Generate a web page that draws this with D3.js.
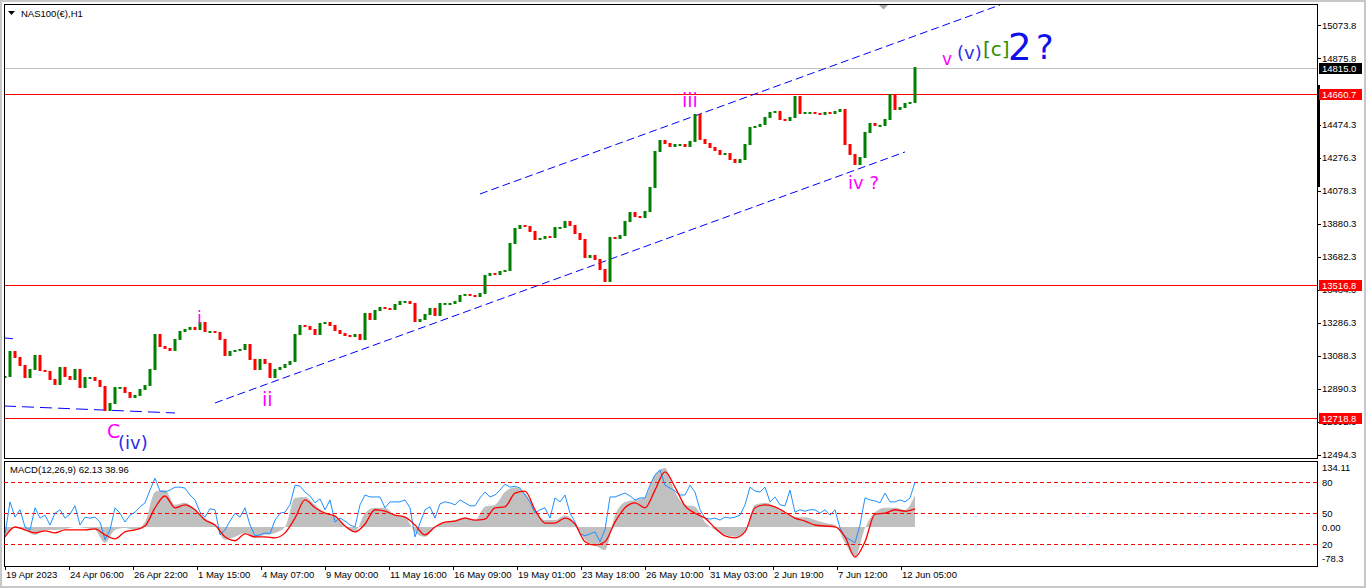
<!DOCTYPE html>
<html>
<head>
<meta charset="utf-8">
<script src="https://cdnjs.cloudflare.com/ajax/libs/d3/7.8.5/d3.min.js"></script>
<style>
html, body { margin: 0; padding: 0; background: #fff; overflow: hidden; }
text { font-family: 'Liberation Sans', Arial, sans-serif; }
</style>
</head>
<body>
<div id="chart"></div>
<script>
// NAS100(€), H1 - contagem de ondas + MACD

// fechamentos, 1 candle = 5 barras H1
var closes = [
    12962, 13112, 13076, 13028, 12956, 13004, 13088, 12998, 12992, 12944,
    12914, 13016, 12962, 12944, 13004, 12896, 12956, 12956, 12938, 12902,
    12758, 12800, 12896, 12896, 12866, 12836, 12848, 12884, 12908, 13004,
    13214, 13142, 13130, 13118, 13184, 13232, 13244, 13256, 13244, 13286,
    13232, 13232, 13226, 13184, 13088, 13112, 13118, 13124, 13154, 13064,
    13004, 13064, 13040, 12956, 13004, 13016, 13034, 13052, 13214, 13268,
    13262, 13244, 13214, 13280, 13286, 13268, 13238, 13220, 13208, 13202,
    13214, 13184, 13340, 13304, 13358, 13376, 13370, 13364, 13394, 13412,
    13412, 13400, 13292, 13304, 13334, 13370, 13328, 13400, 13400, 13400,
    13412, 13448, 13454, 13448, 13442, 13460, 13568, 13580, 13574, 13592,
    13598, 13760, 13850, 13868, 13862, 13832, 13784, 13790, 13802, 13796,
    13856, 13856, 13892, 13868, 13820, 13784, 13676, 13688, 13664, 13604,
    13532, 13796, 13790, 13808, 13892, 13946, 13922, 13916, 13952, 14096,
    14312, 14378, 14360, 14342, 14354, 14354, 14342, 14372, 14534, 14384,
    14360, 14336, 14318, 14294, 14300, 14264, 14246, 14264, 14354, 14456,
    14462, 14474, 14516, 14546, 14552, 14504, 14498, 14516, 14642, 14540,
    14546, 14546, 14540, 14534, 14546, 14540, 14552, 14564, 14354, 14294,
    14234, 14276, 14426, 14480, 14468, 14468, 14504, 14654, 14564, 14576,
    14600, 14606, 14815
];

// linha azul do MACD, 1 ponto a cada 5 barras
var macdMain = [
    -16, 51, 20, 35, 0, -6, 39, 18, 24, 4,
    28, 35, 18, 26, 43, 4, 20, 18, 20, 10,
    -26, -6, 39, 28, 10, 24, 30, 41, 49, 75,
    99, 73, 71, 75, 81, 81, 79, 65, 55, 30,
    20, 37, 35, -16, -6, 12, 28, 20, 39, 4,
    -18, -16, -12, -14, 14, 28, 30, 45, 85, 83,
    71, 63, 49, 57, 35, 55, 10, 18, 12, 4,
    0, 45, 65, 61, 61, 61, 39, 51, 51, 51,
    55, 39, -20, 8, 35, 41, 18, 47, 51, 49,
    45, 55, 49, 43, 43, 59, 71, 61, 65, 75,
    87, 81, 83, 79, 65, 51, 28, 35, 39, 18,
    59, 51, 65, 28, 10, -14, -18, -14, -10, -30,
    -6, 61, 61, 65, 69, 63, 55, 59, 59, 85,
    106, 116, 85, 79, 73, 65, 65, 85, 71, 35,
    18, 16, 18, 14, 20, 18, 20, 24, 45, 81,
    73, 71, 81, 51, 61, 45, 43, 75, 30, 35,
    32, 35, 35, 28, 35, 24, 35, -2, -20, -26,
    -32, 4, 59, 55, 53, 49, 69, 51, 51, 55,
    51, 59, 91
];

// linha vermelha (sinal), 1 ponto a cada 10 barras
var macdSignal = [
    -20, 0, -6, -12, -8, -12, -6, -6, -6, -4,
    -16, -24, -10, -6, 2, 39, 63, 39, 45, 35,
    14, 4, -20, -28, -14, -20, -20, -22, -12, 18,
    55, 39, 28, 22, 2, -10, 6, 35, 32, 24,
    20, 4, -16, 0, 10, 12, 18, 14, 16, 39,
    41, 69, 73, 35, 8, 8, 18, 6, -30, -37,
    -30, 10, 39, 49, 39, 75, 112, 81, 43, 28,
    18, -2, -18, -22, -10, 39, 45, 41, 30, 18,
    12, 4, 2, 0, -20, -61, -30, 26, 28, 35,
    32, 37
];

// histograma cinza, 1 ponto a cada 10 barras
var macdHist = [
    -16, 0, -6, -16, -6, -6, -4, 0, -2, -6,
    -32, -6, -2, -6, 10, 71, 75, 45, 49, 35,
    18, 4, -26, -20, -12, -22, -16, -12, 0, 59,
    61, 45, 28, 20, 0, -10, 28, 39, 39, 24,
    20, -10, -20, 0, 10, 14, 20, 14, 41, 45,
    71, 81, 69, 35, 14, 14, 24, 8, -26, -37,
    -47, 24, 51, 55, 61, 106, 120, 71, 45, 41,
    10, -6, -16, -20, -10, 45, 49, 41, 28, 20,
    20, 14, 8, 4, -32, -61, -2, 30, 39, 39,
    35, 65
];

var priceTicks = [15073.8, 14875.8, 14474.3, 14276.3, 14078.3, 13880.3, 13682.3,
    13484.3, 13286.3, 13088.3, 12890.3, 12692.3, 12494.3];
var timeLabels = ['19 Apr 2023', '24 Apr 06:00', '26 Apr 22:00', '1 May 15:00', '4 May 07:00',
    '9 May 00:00', '11 May 16:00', '16 May 09:00', '19 May 01:00', '23 May 18:00',
    '26 May 10:00', '31 May 03:00', '2 Jun 19:00', '7 Jun 12:00', '12 Jun 05:00'];
var redLevels = [14660.7, 13516.8, 12718.8];
var lastPrice = 14815.0;
var macdRange = [-78.3, 134.11];
var macdLevels = [90.8, 27.8, -35.2];
var macdLevelNames = ['80', '50', '20'];
var macdLegend = [62.13, 38.96];

// linhas de tendencia: [barra1, preco1, barra2, preco2]
var trendLines = [
    [475, 14060, 995, 15194],
    [210, 12806, 900, 14312],
    [-1, 12788, 170, 12746],
    [0, 13196, 10, 13190]
];

// contagem de ondas
var waveText = ['C', '(iv)', 'i', 'ii', 'iii', 'iv ?', 'v', '(v)', '[c]', '2', '?'];
var waveBar = [102, 113, 192, 257, 677, 843, 937, 952, 978, 1003, 1031];
var wavePrice = [12596, 12530, 13280, 12788, 14582, 14090, 14834, 14870, 14888, 14864, 14870];

// ------------------------------------------------------------------

var W = 1366, H = 588;
var left = 4, right = 1317;
var mainTop = 4, mainBottom = 458, macdTop = 461, macdBottom = 566;
var candleStep = 5, slowStep = 10, labelEvery = 64;

var svg = d3
.select('#chart')
.append('svg')
.attr('width', W)
.attr('height', H)
.style('display', 'block')
;

var x = d3.scaleLinear().domain([0, right - 5]).range([5, right]);
var y = d3.scaleLinear().domain([priceTicks[priceTicks.length - 1], priceTicks[0]]).range([454.92, 25]);
var ym = d3.scaleLinear().domain(macdRange).range([565.5, 461]);

var defs = svg.append('defs');
defs.append('clipPath').attr('id', 'clipMain')
.append('rect').attr('x', left).attr('y', mainTop).attr('width', right - left).attr('height', mainBottom - mainTop);
defs.append('clipPath').attr('id', 'clipMacd')
.append('rect').attr('x', left).attr('y', macdTop).attr('width', right - left).attr('height', macdBottom - macdTop);

// moldura da janela
svg.append('rect')
.attr('x', 1).attr('y', 1).attr('width', W - 2).attr('height', H - 2)
.attr('fill', 'none').attr('stroke', '#c8c8c8').attr('stroke-width', 2)
;

var main = svg.append('g').attr('clip-path', 'url(#clipMain)');

// linhas horizontais
main.selectAll('line.level')
.data(redLevels)
.enter()
.append('line')
.attr('x1', left).attr('x2', right)
.attr('y1', function(d){ return Math.round(y(d)) + 0.5; })
.attr('y2', function(d){ return Math.round(y(d)) + 0.5; })
.attr('stroke', '#ff0000')
;

main.append('line')
.attr('x1', left).attr('x2', right)
.attr('y1', Math.round(y(lastPrice)) + 0.5).attr('y2', Math.round(y(lastPrice)) + 0.5)
.attr('stroke', '#c0c0c0')
;

// canal
main.selectAll('line.trend')
.data(trendLines)
.enter()
.append('line')
.attr('x1', function(d){ return x(d[0]); })
.attr('y1', function(d){ return y(d[1]); })
.attr('x2', function(d){ return x(d[2]); })
.attr('y2', function(d){ return y(d[3]); })
.attr('stroke', '#0000ff')
.attr('stroke-width', 1)
.attr('stroke-dasharray', function(d, i){ return i == 2 ? '12,6' : '8,4'; })
;

// candles
var bars = closes.map(function(c, i){ return {i: i, o: i ? closes[i - 1] : c, c: c}; });

main.selectAll('rect.candle')
.data(bars)
.enter()
.append('rect')
.attr('class', 'candle')
.attr('x', function(d){ return x(d.i * candleStep) - 1.5; })
.attr('width', 3)
.attr('y', function(d){ return y(Math.max(d.o, d.c)) - 1; })
.attr('height', function(d){ return Math.max(2, Math.abs(y(d.o) - y(d.c)) + 1); })
.attr('fill', function(d){ return d.c >= d.o ? '#008000' : '#ff0000'; })
;

// rotulos das ondas
var waveColor = ['#ff00ff', '#2b2be6', '#ff00ff', '#ff00ff', '#ff00ff', '#ff00ff', '#ff00ff', '#3030e8', '#2f8f00', '#1010e8', '#1010e8'];
var waveSize = [19, 18, 17, 19, 19, 18, 17, 18, 20, 37, 33];

svg.selectAll('text.wave')
.data(waveText)
.enter()
.append('text')
.attr('class', 'wave')
.attr('x', function(d, i){ return x(waveBar[i]); })
.attr('y', function(d, i){ return y(wavePrice[i]); })
.attr('fill', function(d, i){ return waveColor[i]; })
.style('font-family', "'DejaVu Sans', sans-serif")
.style('font-size', function(d, i){ return waveSize[i] + 'px'; })
.text(function(d){ return d; })
;

// paineis
svg.append('rect')
.attr('x', left + 0.5).attr('y', mainTop + 0.5)
.attr('width', right - left).attr('height', mainBottom - mainTop)
.attr('fill', 'none').attr('stroke', '#000')
;
svg.append('rect')
.attr('x', left + 0.5).attr('y', macdTop + 0.5)
.attr('width', right - left).attr('height', macdBottom - macdTop)
.attr('fill', 'none').attr('stroke', '#000')
;

// marcador de deslocamento
svg.append('path')
.attr('d', 'M879,5 L888,5 L883.5,9.5 Z')
.attr('fill', '#a8a8a8')
;

// titulo
svg.append('path').attr('d', 'M8,11 L15,11 L11.5,15 Z').attr('fill', '#000');
svg.append('text')
.attr('x', 21).attr('y', 16.5)
.style('font-size', '9.5px')
.text('NAS100(€),H1')
;

// eixo de precos
svg.append('line')
.attr('x1', right + 1.5).attr('x2', right + 1.5)
.attr('y1', 85).attr('y2', 187)
.attr('stroke', '#000').attr('stroke-width', 3)
;

svg.selectAll('line.ptick')
.data(priceTicks)
.enter()
.append('line')
.attr('x1', right).attr('x2', right + 4)
.attr('y1', function(d){ return Math.round(y(d)) + 0.5; })
.attr('y2', function(d){ return Math.round(y(d)) + 0.5; })
.attr('stroke', '#000')
;

svg.selectAll('text.ptick')
.data(priceTicks)
.enter()
.append('text')
.attr('x', right + 5)
.attr('y', function(d){ return y(d) + 3.5; })
.style('font-size', '9.5px')
.text(function(d){ return d.toFixed(1); })
;

var tags = redLevels.map(function(v){ return {v: v, bg: '#ff0000'}; });
tags.push({v: lastPrice, bg: '#000000'});

var tag = svg.selectAll('g.tag')
.data(tags)
.enter()
.append('g')
.attr('transform', function(d){ return 'translate(' + (right + 2) + ',' + Math.round(y(d.v)) + ')'; })
;
tag.append('rect')
.attr('x', 0).attr('y', -5).attr('width', 43).attr('height', 11)
.attr('fill', function(d){ return d.bg; })
;
tag.append('text')
.attr('x', 3).attr('y', 4)
.attr('fill', '#fff')
.style('font-size', '9.5px')
.text(function(d){ return d.v.toFixed(1); })
;

// MACD
var macd = svg.append('g').attr('clip-path', 'url(#clipMacd)');

var histArea = d3.area()
.x(function(d, i){ return x(i * slowStep); })
.y0(ym(0))
.y1(function(d){ return ym(d); })
.curve(d3.curveMonotoneX)
;
macd.append('path')
.datum(macdHist)
.attr('d', histArea)
.attr('fill', '#c0c0c0')
;

macd.selectAll('line.mlevel')
.data(macdLevels)
.enter()
.append('line')
.attr('x1', left).attr('x2', right)
.attr('y1', function(d){ return Math.round(ym(d)) + 0.5; })
.attr('y2', function(d){ return Math.round(ym(d)) + 0.5; })
.attr('stroke', '#ff0000')
.attr('stroke-dasharray', '4,3')
;

macd.append('path')
.datum(macdMain)
.attr('d', d3.line()
    .x(function(d, i){ return x(i * candleStep); })
    .y(function(d){ return ym(d); }))
.attr('fill', 'none')
.attr('stroke', '#1e90ff')
.attr('stroke-width', 1)
;

macd.append('path')
.datum(macdSignal)
.attr('d', d3.line()
    .x(function(d, i){ return x(i * slowStep); })
    .y(function(d){ return ym(d); })
    .curve(d3.curveMonotoneX))
.attr('fill', 'none')
.attr('stroke', '#ff0000')
.attr('stroke-width', 1.3)
;

svg.append('text')
.attr('x', 10).attr('y', 473)
.style('font-size', '9.5px')
.text('MACD(12,26,9) ' + macdLegend[0].toFixed(2) + ' ' + macdLegend[1].toFixed(2))
;

// rotulos do eixo do MACD
var macdAxis = [
    {t: macdRange[1].toFixed(2), y: macdTop + 6},
    {t: macdLevelNames[0], y: Math.round(ym(macdLevels[0]))},
    {t: macdLevelNames[1], y: Math.round(ym(macdLevels[1]))},
    {t: '0.00', y: Math.round(ym(0))},
    {t: macdLevelNames[2], y: Math.round(ym(macdLevels[2]))},
    {t: macdRange[0].toFixed(1), y: macdBottom - 8}
];
svg.selectAll('text.maxis')
.data(macdAxis)
.enter()
.append('text')
.attr('x', right + 5)
.attr('y', function(d){ return d.y + 3.5; })
.style('font-size', '9.5px')
.text(function(d){ return d.t; })
;

// eixo do tempo
var tl = svg.selectAll('g.time')
.data(timeLabels)
.enter()
.append('g')
.attr('transform', function(d, i){ return 'translate(' + Math.round(x(i * labelEvery)) + ',' + macdBottom + ')'; })
;
tl.append('line')
.attr('x1', 0.5).attr('x2', 0.5).attr('y1', 0).attr('y2', 4)
.attr('stroke', '#000')
;
tl.append('text')
.attr('x', 1).attr('y', 12)
.style('font-size', '9.5px')
.text(function(d){ return d; })
;
</script>
</body>
</html>
